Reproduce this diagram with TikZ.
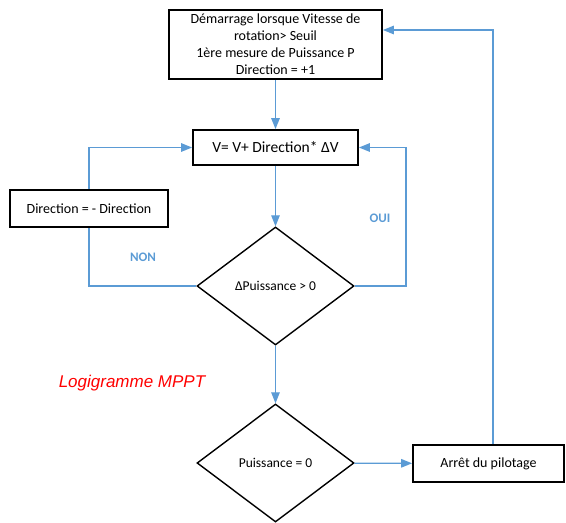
\documentclass[tikz,border=0pt]{standalone}
\usepackage{fontspec}
\setmainfont{Carlito}
\newfontfamily\arialfont{Liberation Sans}
\usetikzlibrary{shapes.geometric,arrows.meta}
\definecolor{lblue}{HTML}{5B9BD5}
\definecolor{lred}{HTML}{FF0000}
\begin{document}
\begin{tikzpicture}[x=1pt,y=-1pt,
 box/.style={draw=black, line width=1.8pt, fill=white, inner sep=0pt, align=center, font=\fontsize{14}{17}\selectfont},
 dia/.style={diamond, draw=black, line width=1.4pt, fill=white, inner sep=0pt, minimum width=157pt, minimum height=118pt, font=\fontsize{13.5}{16}\selectfont},
 conn/.style={draw=lblue, line width=1.3pt},
 arr/.style={conn, -{Triangle[length=11pt,width=8.5pt]}},
 lab/.style={text=lblue, font=\bfseries\fontsize{13}{15}\selectfont}]
\useasboundingbox (0,0) rectangle (566,523);
\node[box, minimum width=213pt, minimum height=69pt] (start) at (275.5,44.5) {Démarrage lorsque Vitesse de\\rotation> Seuil\\1ère mesure de Puissance P\\Direction = +1};
\node[box, minimum width=165pt, minimum height=35pt, font=\fontsize{15.5}{18}\selectfont] (vbox) at (275.5,147.5) {V= V+ Direction* ΔV};
\node[box, minimum width=158pt, minimum height=37pt] (dir) at (89,208.5) {Direction = - Direction};
\node[dia] (d1) at (275.5,286) {ΔPuissance > 0};
\node[dia] (d2) at (275.5,463) {Puissance = 0};
\node[box, minimum width=151pt, minimum height=37pt] (stop) at (488.5,463.5) {Arrêt du pilotage};
\coordinate (up) at (493,30);
\coordinate (oui) at (406,286);
\draw[arr] (start) -- (vbox);
\draw[arr] (vbox) -- (d1);
\draw[arr] (d1) -- (d2);
\draw[arr] (d2) -- (stop);
\draw[arr] (stop.north -| up) -- (up) -- (start.east |- up);
\draw[arr] (dir.north) |- (vbox.west);
\draw[conn] (d1.west) -| (dir.south);
\draw[arr] (d1.east) -- (oui) -- (oui |- vbox.east) -- (vbox.east);
\node[lab] (non) at (143,257) {NON};
\node[lab] (ouil) at (380,218) {OUI};
\node[text=lred, font=\arialfont\itshape\fontsize{17}{20}\selectfont] (title) at (132,383) {Logigramme MPPT};
\end{tikzpicture}
\end{document}
